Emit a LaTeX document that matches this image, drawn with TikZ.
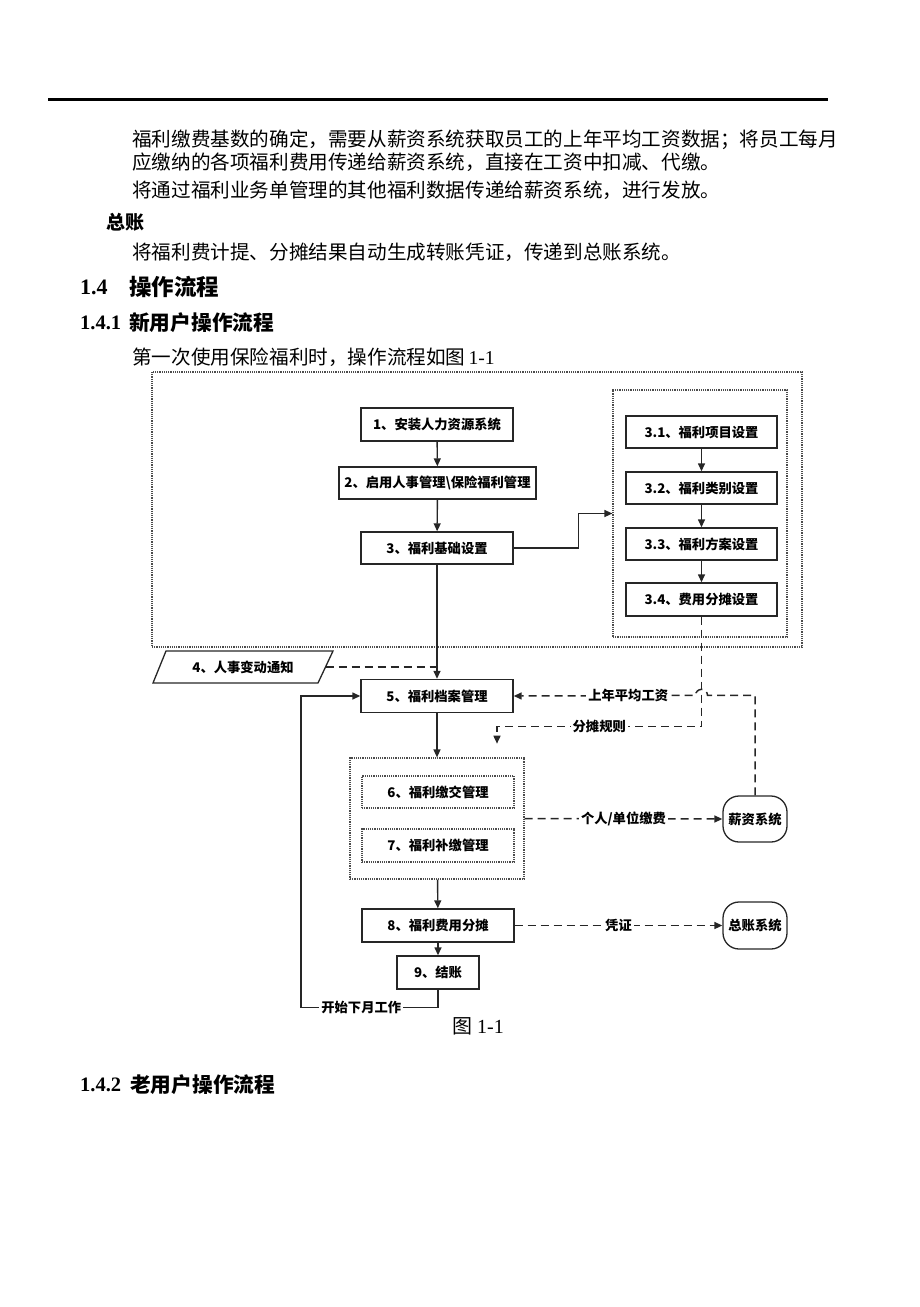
\documentclass[tikz,border=0pt]{standalone}
\usepackage{fontspec}
\setmainfont{Liberation Serif}
\newfontfamily\cjk{Noto Sans CJK SC}
\usepackage{xcolor}
\usepackage{tikz}
\usetikzlibrary{shapes,arrows,arrows.meta,positioning}

\begin{document}
\begin{tikzpicture}[
        x=1pt, y=-1pt,
        every node/.style={inner sep=0pt},
        >={Triangle[length=8pt,width=7pt]},
        body/.style={anchor=west, font=\cjk\fontsize{19.6}{20}\selectfont},
        box/.style={
            draw=black!85,
            line width=1.4pt,
            minimum width=152pt,
            minimum height=33pt,
            font=\cjk\bfseries\fontsize{13.3}{13}\selectfont
        },
        dotbox/.style={draw=black!70, line width=1.2pt, densely dotted},
        sysbox/.style={
            draw=black!85,
            line width=1.3pt,
            rounded corners=16pt,
            minimum width=64pt,
            minimum height=46pt,
            font=\cjk\bfseries\fontsize{13.3}{13}\selectfont
        },
        flow/.style={draw=black!85, line width=1.4pt, ->},
        link/.style={draw=black!85, line width=1.5pt, dash pattern=on 8pt off 5pt},
        lbl/.style={fill=white, inner sep=2pt, font=\cjk\bfseries\fontsize{13.3}{13}\selectfont}
    ]
    \useasboundingbox (0,0) rectangle (920,1307);

    % page text
    \draw[line width=3pt] (48,99) -- (828,99);
    \node[body] (p1) at (132,140) {福利缴费基数的确定，需要从薪资系统获取员工的上年平均工资数据；将员工每月};
    \node[body] (p2) at (132,162) {应缴纳的各项福利费用传递给薪资系统，直接在工资中扣减、代缴。};
    \node[body] (p3) at (132,190) {将通过福利业务单管理的其他福利数据传递给薪资系统，进行发放。};
    \node[anchor=west, font=\cjk\bfseries\fontsize{19}{19}\selectfont] (zz-head) at (106,222) {总账};
    \node[body] (p4) at (132,252) {将福利费计提、分摊结果自动生成转账凭证，传递到总账系统。};
    \node[anchor=west, font=\bfseries\fontsize{22}{22}\selectfont] (h14) at (80,287) {1.4};
    \node[anchor=west, font=\cjk\bfseries\fontsize{22.5}{22}\selectfont] (h14t) at (129,287) {操作流程};
    \node[anchor=west, font=\bfseries\fontsize{20.5}{20}\selectfont] (h141) at (80,323) {1.4.1};
    \node[anchor=west, font=\cjk\bfseries\fontsize{20.7}{20}\selectfont] (h141t) at (129,323) {新用户操作流程};
    \node[body] (p5) at (132,357) {第一次使用保险福利时，操作流程如图\,{\rmfamily 1-1}};

    % setup part
    \draw[dotbox] (152,372) rectangle (802,647);
    \node[box] (b1) at (437,424.5) {1、安装人力资源系统};
    \node[box, minimum width=197pt, minimum height=32pt] (b2) at (437.5,483) {2、启用人事管理{\textbackslash}保险福利管理};
    \node[box, minimum height=32pt] (b3) at (437,548) {3、福利基础设置};
    \node[dotbox, minimum width=174pt, minimum height=247pt] (grp3) at (700,513.5) {};
    \node[box, minimum width=151pt, minimum height=32pt] (b31) at (701.5,432) {3.1、福利项目设置};
    \node[box, minimum width=151pt, minimum height=32pt] (b32) at (701.5,488) {3.2、福利类别设置};
    \node[box, minimum width=151pt, minimum height=32pt] (b33) at (701.5,544) {3.3、福利方案设置};
    \node[box, minimum width=151pt] (b34) at (701.5,599.5) {3.4、费用分摊设置};

    \draw[flow] (b1) -- (b2);
    \draw[flow] (b2) -- (b3);
    \draw[flow] (b3.east) -- ++(65,0) |- (grp3.west);
    \draw[flow] (b31) -- (b32);
    \draw[flow] (b32) -- (b33);
    \draw[flow] (b33) -- (b34);

    % monthly part
    \draw[line width=1.3pt, draw=black!85] (166,651) -- (333,651) -- (318,683) -- (153,683) -- cycle;
    \node[font=\cjk\bfseries\fontsize{13.3}{13}\selectfont] (n4) at (243,667) {4、人事变动通知};
    \coordinate (n4e) at (325.5,667);
    \node[box] (b5) at (437,696) {5、福利档案管理};
    \node[dotbox, minimum width=174pt, minimum height=121pt] (g67) at (437,818.5) {};
    \node[box, dotbox, minimum height=32pt] (b6) at (438,792) {6、福利缴交管理};
    \node[box, dotbox] (b7) at (438,845.5) {7、福利补缴管理};
    \node[box] (b8) at (438,925.5) {8、福利费用分摊};
    \node[box, minimum width=82pt] (b9) at (438,972.5) {9、结账};
    \node[sysbox] (xz) at (755,819) {薪资系统};
    \node[sysbox, minimum height=47pt] (zz) at (755,925.5) {总账系统};

    \draw[flow] (b3) -- (b5);
    \draw[link] (n4e) -- (n4e -| b5.north);
    \draw[link, ->] (b34.south) -- ++(0,110) -| node[lbl, pos=0.25] {分摊规则} ++(-204.5,17);
    \draw[link, ->] (xz.north) -- ++(0,-100) -- ++(-47.5,0) arc (0:-180:6)
        -- node[lbl, pos=0.37] {上年平均工资} (b5.east);
    \draw[flow] (b5) -- (g67);
    \draw[link, ->] (g67.east) -- node[lbl] {个人/单位缴费} (xz.west);
    \draw[flow] (g67) -- (b8);
    \draw[link, ->] (b8.east) -- node[lbl] {凭证} (zz.west);
    \draw[flow] (b8) -- (b9);
    \draw[flow] (b9.south) -- ++(0,18) -- node[lbl, pos=0.56] {开始下月工作} ++(-137,0) |- (b5.west);

    \node[font=\fontsize{20}{20}\selectfont] (cap) at (478,1026) {{\cjk 图} 1-1};
    \node[anchor=west, font=\bfseries\fontsize{20.5}{20}\selectfont] (h142) at (80,1085) {1.4.2};
    \node[anchor=west, font=\cjk\bfseries\fontsize{20.7}{20}\selectfont] (h142t) at (130,1085) {老用户操作流程};
\end{tikzpicture}
\end{document}
